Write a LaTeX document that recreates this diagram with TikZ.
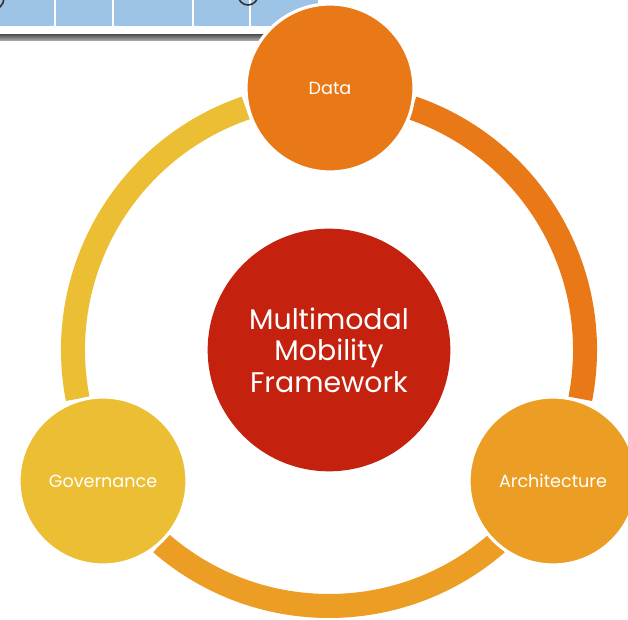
\documentclass[tikz,border=0pt]{standalone}
\usepackage{fontspec}
\setmainfont{Poppins}
\usetikzlibrary{calc}
\begin{document}
\begin{tikzpicture}[x=0.75pt,y=0.75pt,
  ring/.style={line width=18pt,line cap=butt},
  bigdot/.style={circle,minimum size=126pt,inner sep=0pt,draw=white,line width=2.4pt,text=white,font=\fontsize{13.2pt}{15pt}\selectfont},
  divider/.style={white,line width=1.5pt}]
\definecolor{cData}{HTML}{E97817}
\definecolor{cArch}{HTML}{EC9E24}
\definecolor{cGov}{HTML}{EBBE33}
\definecolor{cCore}{HTML}{C4210E}
\definecolor{cPanel}{HTML}{9DC3E6}
\useasboundingbox (0,0) rectangle (628,620);
\fill[white] (0,0) rectangle (628,620);
% top-left fragment of a screenshot
\fill[cPanel] (0,594) rectangle (318,620);
\draw[divider] (55,594) -- (55,620);
\draw[divider] (113,594) -- (113,620);
\draw[divider] (193,594) -- (193,620);
\draw[divider] (250,594) -- (250,620);
\draw[black!80,line width=1.2pt] (248,625) circle[radius=10];
\draw[black!80,line width=1.2pt] (-8,622) circle[radius=12];
\shade[top color=black!65,bottom color=black!30] (0,579) rectangle (300,585);
% ring
\coordinate (C) at (329,270);
\draw[ring,cData] ($(C)+(71:192pt)$) arc[start angle=71,end angle=-11,radius=192pt];
\draw[ring,cArch] ($(C)+(-49:192pt)$) arc[start angle=-49,end angle=-131,radius=192pt];
\draw[ring,cGov] ($(C)+(191:192pt)$) arc[start angle=191,end angle=109,radius=192pt];
% nodes
\node[bigdot,fill=cData] (data) at (330,532) {Data};
\node[bigdot,fill=cArch] (arch) at (553,139) {Architecture};
\node[bigdot,fill=cGov] (gov) at (103,139) {Governance};
\node[circle,fill=cCore,minimum size=182pt,inner sep=0pt,text=white,align=center,
  font=\fontsize{21.3pt}{23.6pt}\selectfont] (core) at (C) {Multimodal\\Mobility\\Framework};
\end{tikzpicture}
\end{document}
